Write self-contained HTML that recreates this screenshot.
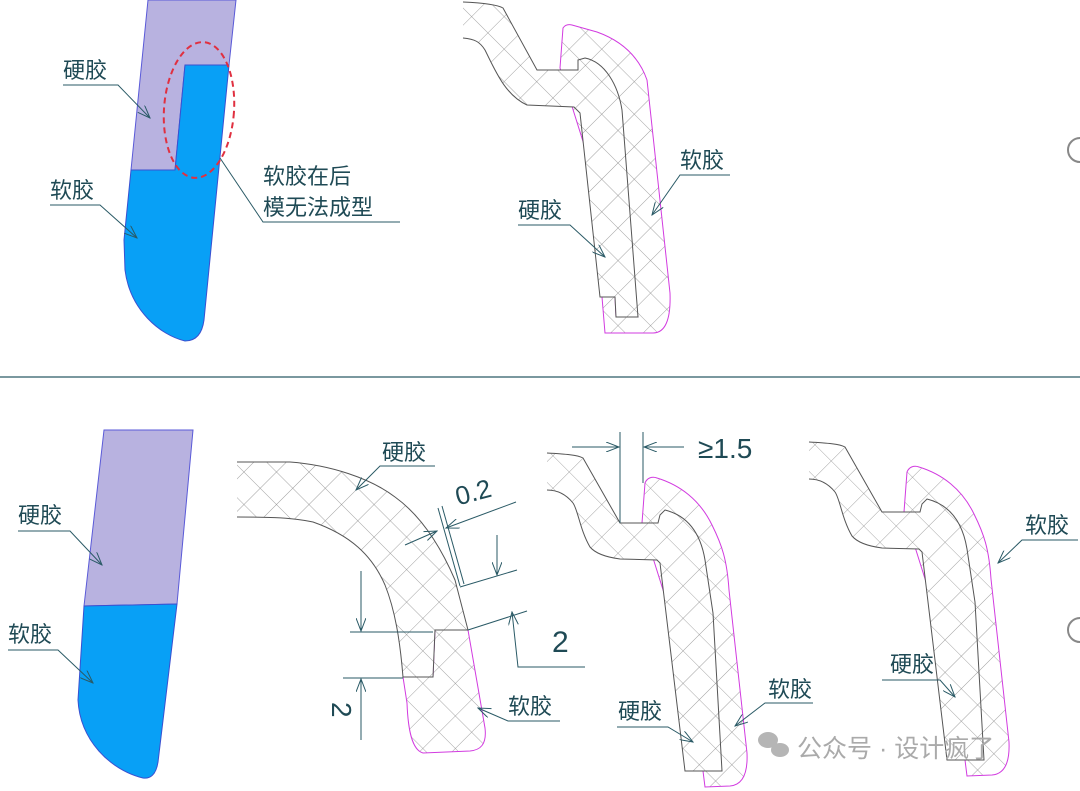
<!DOCTYPE html>
<html><head><meta charset="utf-8"><style>
html,body{margin:0;padding:0;background:#fff;}
svg{display:block;}
text{font-family:"Liberation Sans","Noto Sans CJK SC",sans-serif;fill:#1f4a55;}
</style></head><body>
<svg width="1080" height="791" viewBox="0 0 1080 791" xmlns="http://www.w3.org/2000/svg">
<defs>
<pattern id="h" patternUnits="userSpaceOnUse" width="23" height="23" patternTransform="rotate(45)">
<rect width="23" height="23" fill="#fff"/>
<path d="M0 0H23M0 0V23" stroke="#8a8a8a" stroke-width="0.8"/>
</pattern>
<marker id="a" markerWidth="14" markerHeight="10" refX="13" refY="5" orient="auto" markerUnits="userSpaceOnUse">
<path d="M0 0L13 5L0 10" fill="none" stroke="#2a5a66" stroke-width="1"/>
</marker>
<g id="s3">
<path d="M642,523 L645,483 C647,478 652,476 657,478 C680,485 700,500 712,525 C722,545 727,560 729,590 L747,753 C748,775 742,785 730,786 L705,787 L703,771 L720,771 Z" fill="url(#h)" stroke="#d23be0" stroke-width="1"/>
<path d="M547,453 C565,454 578,455 583,458 L620,523 L658,523 L660,515 L665,510 C685,515 700,530 705,560 L713,613 L722,771 L685,771 L660,563 L657,560 L620,559 C605,557 595,553 590,547 C580,530 578,510 573,503 C565,493 555,490 547,490" fill="url(#h)" stroke="#555" stroke-width="1"/>
</g>
</defs>
<rect width="1080" height="791" fill="#fff"/>

<!-- TOP LEFT -->
<path d="M148,0 L236,0 L229,65 L185,65 L175,170 L131,170 Z" fill="#b8b2e0" stroke="#5a5ad8" stroke-width="1"/>
<path d="M185,65 L229,65 L204,320 C202,335 195,341 185,341 C160,335 130,310 125,270 L124,240 L131,170 L175,170 Z" fill="#08a0f6" stroke="#3a50d0" stroke-width="1"/>
<ellipse cx="199" cy="110" rx="35" ry="68" fill="none" stroke="#e03040" stroke-width="2" stroke-dasharray="6,4" transform="rotate(4 199 110)"/>
<text x="63" y="78" font-size="22">硬胶</text>
<path d="M63,85 H118 L150,118" fill="none" stroke="#2a5a66" marker-end="url(#a)"/>
<text x="50" y="198" font-size="22">软胶</text>
<path d="M50,205 H100 L137,238" fill="none" stroke="#2a5a66" marker-end="url(#a)"/>
<text x="263" y="184" font-size="22">软胶在后</text>
<text x="263" y="215" font-size="22">模无法成型</text>
<path d="M400,222 H263 L220,158" fill="none" stroke="#2a5a66"/>

<!-- TOP MIDDLE -->
<path d="M560,68 L563,28 C565,25 568,24 572,25 L597,32 C625,42 640,60 647,80 L670,293 C671,320 665,333 653,333 L605,333 L602,297 L615,297 L616,317 L638,317 Z" fill="url(#h)" stroke="#d23be0" stroke-width="1"/>
<path d="M463,2 C485,3 498,5 503,8 L537,70 L578,70 L578,60 L585,58 C605,62 618,85 622,110 L638,317 L616,317 L615,297 L600,297 L580,113 L574,107 L527,105 C505,95 495,70 485,50 C480,42 475,39 463,38" fill="url(#h)" stroke="#555" stroke-width="1"/>
<text x="680" y="168" font-size="22">软胶</text>
<path d="M730,175 H680 L652,215" fill="none" stroke="#2a5a66" marker-end="url(#a)"/>
<text x="518" y="218" font-size="22">硬胶</text>
<path d="M518,225 H570 L605,257" fill="none" stroke="#2a5a66" marker-end="url(#a)"/>

<!-- DIVIDER -->
<line x1="0" y1="377" x2="1080" y2="377" stroke="#2a5a66" stroke-width="1.2"/>

<!-- BOTTOM LEFT -->
<path d="M104,430 L193,430 L177,604 L84,606 Z" fill="#b8b2e0" stroke="#5a5ad8" stroke-width="1"/>
<path d="M84,606 L177,604 L158,762 C156,775 150,779 143,778 C110,770 80,740 78,700 Z" fill="#08a0f6" stroke="#3a50d0" stroke-width="1"/>
<text x="18" y="523" font-size="22">硬胶</text>
<path d="M18,531 H70 L102,565" fill="none" stroke="#2a5a66" marker-end="url(#a)"/>
<text x="8" y="642" font-size="22">软胶</text>
<path d="M8,650 H58 L93,683" fill="none" stroke="#2a5a66" marker-end="url(#a)"/>

<!-- BOTTOM MIDDLE -->
<path d="M435,630 L468,630 L485,728 C487,745 480,750 470,751 L423,753 C412,750 408,730 407,703 L403,677 L433,677 Z" fill="url(#h)" stroke="#d23be0" stroke-width="1"/>
<path d="M237,462 L290,462 C330,465 370,478 395,497 C420,515 440,545 455,580 L468,630 L435,630 L433,677 L403,677 C400,640 395,610 385,585 C372,555 350,535 313,522 C290,517 260,517 237,517" fill="url(#h)" stroke="#555" stroke-width="1"/>
<path d="M438,508 L460,586 M442,506 L464,584" stroke="#2a5a66" stroke-width="1"/>
<path d="M405,545 L437,531" stroke="#2a5a66" marker-end="url(#a)"/>
<path d="M516,502 L446,528" stroke="#2a5a66" marker-end="url(#a)"/>
<text x="455" y="502" font-size="26" transform="rotate(-15 470 492)">0.2</text>
<path d="M460,587 L517,570" stroke="#2a5a66"/>
<path d="M497,535 L497,575" stroke="#2a5a66" marker-end="url(#a)"/>
<path d="M468,630 L527,611" stroke="#2a5a66"/>
<path d="M585,667 H518 L512,612" fill="none" stroke="#2a5a66" marker-end="url(#a)"/>
<text x="552" y="652" font-size="30">2</text>
<path d="M350,632 H433 M343,678 H403" stroke="#2a5a66"/>
<path d="M361,571 V631" stroke="#2a5a66" marker-end="url(#a)"/>
<path d="M361,740 V679" stroke="#2a5a66" marker-end="url(#a)"/>
<text x="0" y="0" font-size="28" transform="translate(332,702) rotate(90)">2</text>
<text x="382" y="460" font-size="22">硬胶</text>
<path d="M435,466 H380 L356,490" fill="none" stroke="#2a5a66" marker-end="url(#a)"/>
<text x="508" y="714" font-size="22">软胶</text>
<path d="M560,721 H508 L478,708" fill="none" stroke="#2a5a66" marker-end="url(#a)"/>

<!-- BOTTOM 3 -->
<use href="#s3"/>
<path d="M620,432 V523 M643,432 V483" stroke="#2a5a66"/>
<path d="M572,447 H619" stroke="#2a5a66" marker-end="url(#a)"/>
<path d="M684,447 H644" stroke="#2a5a66" marker-end="url(#a)"/>
<text x="698" y="458" font-size="28">≥1.5</text>
<text x="768" y="697" font-size="22">软胶</text>
<path d="M813,703 H765 L735,726" fill="none" stroke="#2a5a66" marker-end="url(#a)"/>
<text x="618" y="719" font-size="22">硬胶</text>
<path d="M617,727 H668 L693,742" fill="none" stroke="#2a5a66" marker-end="url(#a)"/>

<!-- BOTTOM 4 -->
<g transform="translate(262,-11)"><use href="#s3"/></g>
<text x="1025" y="533" font-size="22">软胶</text>
<path d="M1078,540 H1022 L998,563" fill="none" stroke="#2a5a66" marker-end="url(#a)"/>
<text x="890" y="672" font-size="22">硬胶</text>
<path d="M882,680 H940 L955,697" fill="none" stroke="#2a5a66" marker-end="url(#a)"/>

<!-- partial circles at edge -->
<path d="M1080,138 A12,12 0 0 0 1080,162" fill="none" stroke="#888" stroke-width="2"/>
<path d="M1080,618 A12,12 0 0 0 1080,642" fill="none" stroke="#888" stroke-width="2"/>

<!-- watermark -->
<g fill="#b5b5b5">
<ellipse cx="768" cy="740" rx="10" ry="8"/>
<ellipse cx="780" cy="750" rx="9" ry="7"/>
</g>
<text x="797" y="757" font-size="25" style="fill:#aaaaaa">公众号 · 设计疯了</text>
</svg>
</body></html>
